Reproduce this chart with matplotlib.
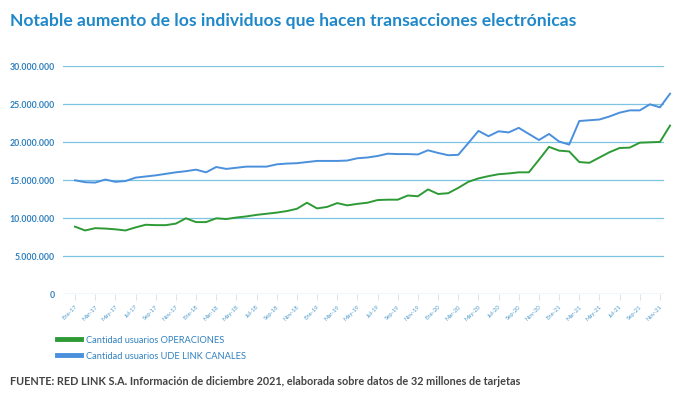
import matplotlib
matplotlib.use("Agg")
import matplotlib.pyplot as plt
from matplotlib.lines import Line2D
from matplotlib.ticker import FuncFormatter

# monthly users, millions (Ene-17 .. Dic-21)
operaciones = [8.9, 8.4, 8.7, 8.65, 8.55, 8.4, 8.8, 9.15, 9.1, 9.1,
               9.3, 10.0, 9.5, 9.5, 10.0, 9.9, 10.1, 10.25, 10.45, 10.6,
               10.75, 10.95, 11.25, 12.05, 11.3, 11.5, 12.0, 11.7, 11.9, 12.05,
               12.4, 12.45, 12.45, 13.0, 12.9, 13.8, 13.2, 13.3, 14.0, 14.8,
               15.25, 15.55, 15.8, 15.9, 16.05, 16.05, 17.7, 19.4, 18.9, 18.8,
               17.4, 17.3, 18.0, 18.7, 19.25, 19.3, 19.95, 20.0, 20.05, 22.2]
canales = [15.0, 14.75, 14.7, 15.1, 14.8, 14.9, 15.35, 15.5, 15.65, 15.85,
           16.05, 16.2, 16.4, 16.05, 16.75, 16.5, 16.65, 16.8, 16.8, 16.8,
           17.1, 17.2, 17.25, 17.4, 17.55, 17.55, 17.55, 17.6, 17.9, 18.0,
           18.2, 18.5, 18.45, 18.45, 18.4, 18.95, 18.6, 18.3, 18.35, 19.9,
           21.5, 20.8, 21.45, 21.3, 21.9, 21.1, 20.3, 21.1, 20.1, 19.7,
           22.8, 22.9, 23.0, 23.4, 23.9, 24.2, 24.2, 25.0, 24.6, 26.4]
meses = ["Ene", "Mar", "May", "Jul", "Sep", "Nov"]
anios = ["17", "18", "19", "20", "21"]
tick_labels = [m + "-" + a for a in anios for m in meses]

green = "#2e9a36"
blue = "#4a90dc"
grid_c = "#7cc4e0"
label_c = "#2f80bf"

plt.rcParams["font.family"] = ["Lato", "DejaVu Sans"]

fig = plt.figure(figsize=(6.79, 3.97), dpi=100)
ax = fig.add_axes([63.3 / 679, 1 - 294.3 / 397, (664 - 63.3) / 679, 228 / 397])

x = list(range(len(operaciones)))
ops = [v * 1e6 for v in operaciones]
can = [v * 1e6 for v in canales]
ax.plot(x, ops, color=green, lw=1.4, clip_on=False, zorder=3)
ax.plot(x, can, color=blue, lw=1.4, clip_on=False, zorder=3)

ax.set_ylim(0, 30e6)
ax.set_xlim(-1.16, 58.4)
ax.set_yticks(range(0, 30000001, 5000000))
ax.yaxis.set_major_formatter(FuncFormatter(lambda v, p: f"{int(v):,}".replace(",", ".")))
ax.grid(axis="y", color=grid_c, lw=0.9)
ax.set_axisbelow(True)
for s in ax.spines.values():
    s.set_visible(False)
ax.tick_params(axis="y", length=0, pad=6, labelsize=6.3, labelcolor=label_c)
for t in ax.get_yticklabels():
    t.set_fontweight("bold")

ax.set_xticks(range(0, 60, 2))
ax.set_xticklabels(tick_labels, rotation=45, ha="right", rotation_mode="anchor",
                   fontsize=4.2, color="#4f9acb")
ax.tick_params(axis="x", length=4, width=0.5, color="#cfd8de", pad=3)

fig.text(10 / 679, 1 - 26 / 397, "Notable aumento de los individuos que hacen transacciones electrónicas",
         fontsize=12.6, fontweight="bold", color="#1f88c9", va="baseline")

handles = [Line2D([], [], color=green, lw=3.5), Line2D([], [], color=blue, lw=3.5)]
fig.legend(handles, ["Cantidad usuarios OPERACIONES", "Cantidad usuarios UDE LINK CANALES"],
           loc="upper left", bbox_to_anchor=(52 / 679, 1 - 331 / 397), frameon=False,
           fontsize=6.7, labelcolor=label_c, handlelength=2.6, handletextpad=0.6,
           labelspacing=0.75, borderpad=0)

fig.text(10 / 679, 1 - 385 / 397,
         "FUENTE: RED LINK S.A. Información de diciembre 2021, elaborada sobre datos de 32 millones de tarjetas",
         fontsize=7.85, fontweight="bold", color="#444444", va="baseline")

fig.savefig("out.png", dpi=100, facecolor="white")
